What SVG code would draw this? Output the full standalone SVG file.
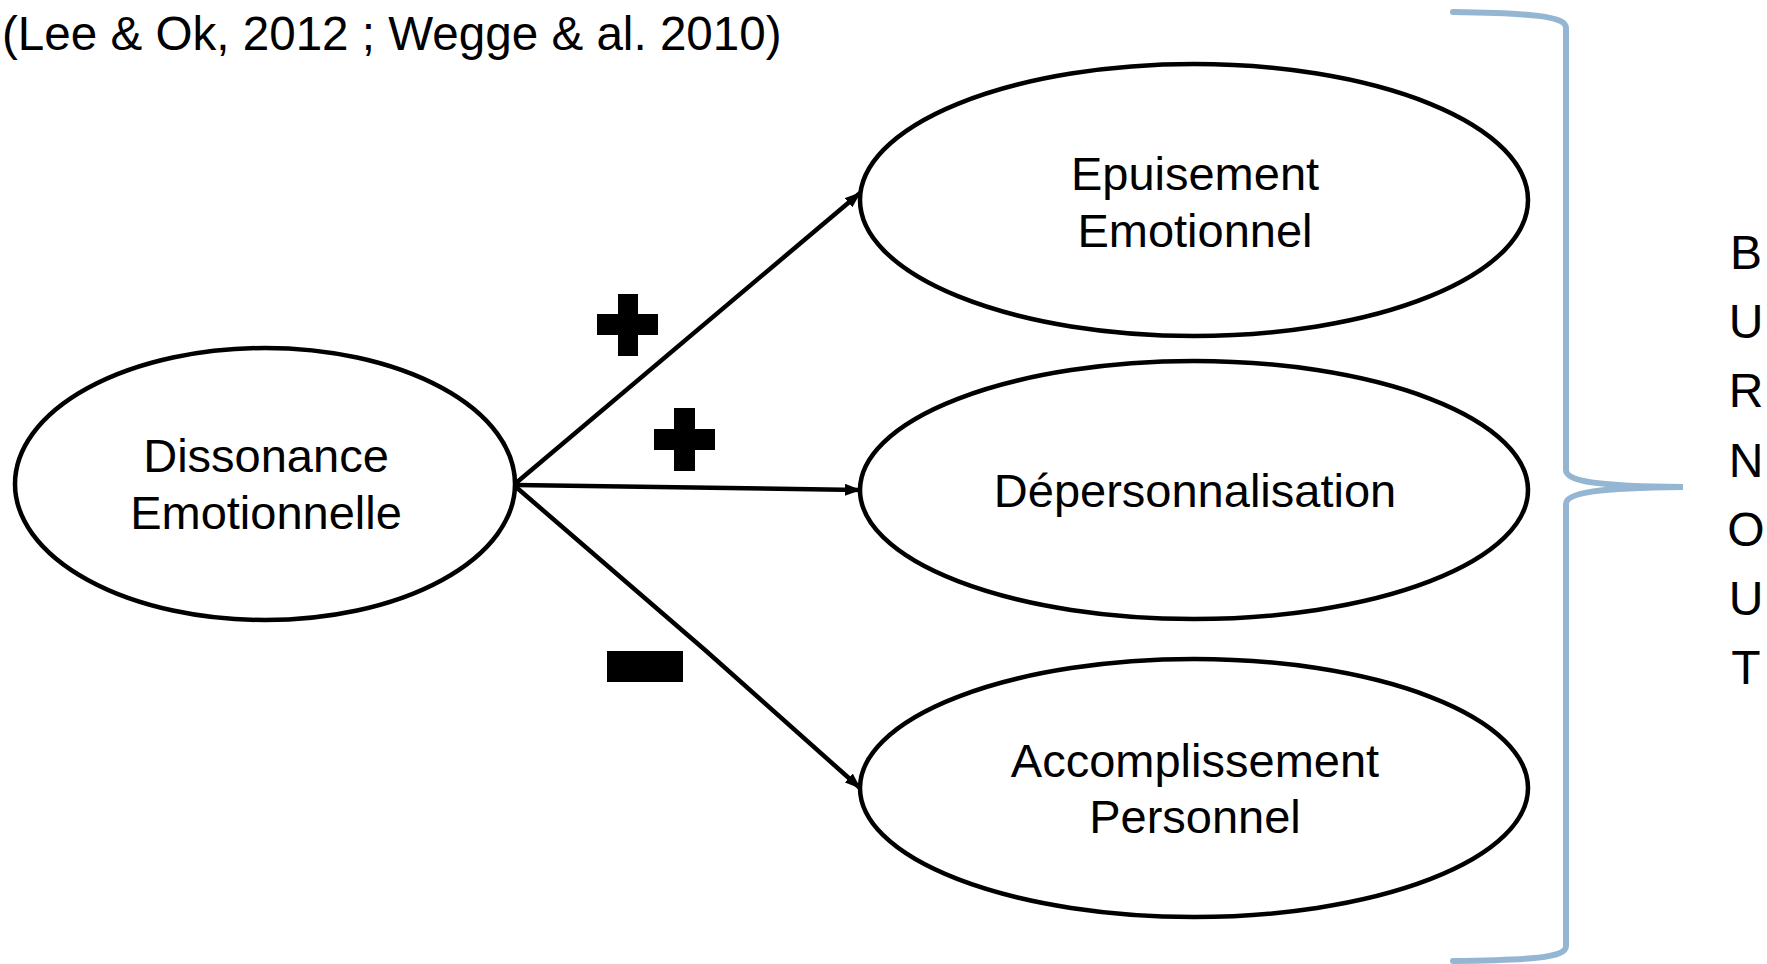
<svg xmlns="http://www.w3.org/2000/svg" width="1767" height="964" viewBox="0 0 1767 964">
<style>
.node{fill:#fff;stroke:#000;stroke-width:4.5}
.t{font-family:"Liberation Sans",Arial,sans-serif;font-size:47px;fill:#000;text-anchor:middle}
.b{font-family:"Liberation Sans",Arial,sans-serif;font-size:48px;fill:#000;text-anchor:middle}
.edge{stroke:#000;stroke-width:4.5;fill:none}
.sign{fill:#000}
</style>
<defs>
<marker id="ah" markerWidth="16" markerHeight="12" refX="15" refY="6" orient="auto" markerUnits="userSpaceOnUse">
<path d="M0,0 L16,6 L0,12 z" fill="#000"/>
</marker>
</defs>
<rect width="1767" height="964" fill="#fff"/>
<text x="2" y="50" font-family="Liberation Sans, Arial, sans-serif" font-size="47.6" fill="#000">(Lee &amp; Ok, 2012 ; Wegge &amp; al. 2010)</text>
<g id="connectors">
<line class="edge" x1="516" y1="483" x2="860" y2="193" marker-end="url(#ah)"/>
<line class="edge" x1="516" y1="485" x2="860" y2="490" marker-end="url(#ah)"/>
<polyline class="edge" points="516,487 705,650 860,788" marker-end="url(#ah)"/>
</g>
<g id="signs">
<path class="sign" d="M618,294 h20 v20 h20 v21 h-20 v21 h-20 v-21 h-21 v-21 h21 z"/>
<path class="sign" d="M674,408 h21 v21 h20 v21 h-20 v21 h-21 v-21 h-20 v-21 h20 z"/>
<rect class="sign" x="607" y="651" width="76" height="31"/>
</g>
<g id="n-dissonance">
<ellipse class="node" cx="265" cy="484" rx="250" ry="136"/>
<text class="t" x="266" y="472">Dissonance</text>
<text class="t" x="266" y="529">Emotionnelle</text>
</g>
<g id="n-epuisement">
<ellipse class="node" cx="1194" cy="200" rx="334" ry="136"/>
<text class="t" x="1195" y="190">Epuisement</text>
<text class="t" x="1195" y="247">Emotionnel</text>
</g>
<g id="n-depersonnalisation">
<ellipse class="node" cx="1194" cy="490" rx="334" ry="129"/>
<text class="t" x="1195" y="507">Dépersonnalisation</text>
</g>
<g id="n-accomplissement">
<ellipse class="node" cx="1194" cy="788" rx="334" ry="129"/>
<text class="t" x="1195" y="777">Accomplissement</text>
<text class="t" x="1195" y="833">Personnel</text>
</g>
<g id="brace">
<path d="M1453,12 C1530,13 1566,16 1566,28 L1566,470 C1566,482 1600,486 1683,487 C1600,488 1566,492 1566,504 L1566,946 C1566,958 1530,960 1453,961" fill="none" stroke="#94B6D2" stroke-width="6" stroke-linecap="round"/>
</g>
<g id="burnout">
<text class="b" x="1746" y="269">B</text>
<text class="b" x="1746" y="338">U</text>
<text class="b" x="1746" y="407">R</text>
<text class="b" x="1746" y="477">N</text>
<text class="b" x="1746" y="546">O</text>
<text class="b" x="1746" y="615">U</text>
<text class="b" x="1746" y="684">T</text>
</g>
</svg>
